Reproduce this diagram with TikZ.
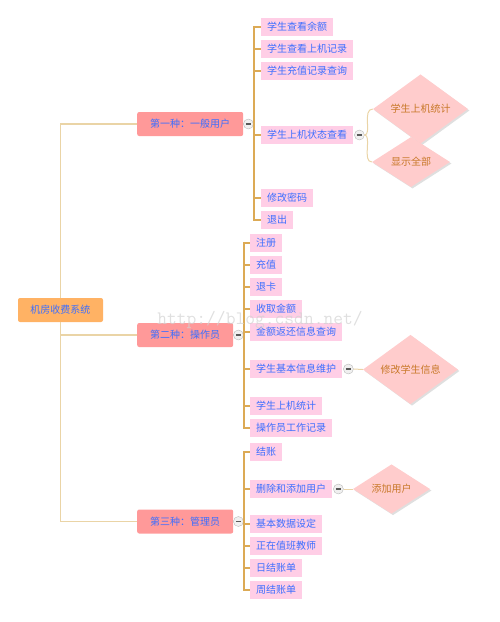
\documentclass[tikz,border=0pt]{standalone}
\usepackage{fontspec}
\setmainfont{Noto Sans CJK SC}
\usetikzlibrary{shapes.geometric,shadows}
\definecolor{rootorange}{RGB}{255,178,100}
\definecolor{kindred}{RGB}{255,153,153}
\definecolor{leafpink}{RGB}{255,206,230}
\definecolor{pickpink}{RGB}{255,204,204}
\definecolor{textblue}{RGB}{60,110,255}
\definecolor{pickbrown}{RGB}{200,120,40}
\definecolor{trunktan}{RGB}{234,212,166}
\definecolor{branchgold}{RGB}{220,170,85}
\tikzset{
  root/.style={rectangle, rounded corners=2pt, fill=rootorange, text=textblue,
    minimum height=24pt, inner xsep=12.5pt, font=\fontsize{10}{12}\selectfont},
  kind/.style={rectangle, rounded corners=2pt, fill=kindred, text=textblue,
    minimum height=24pt, inner xsep=13pt, anchor=west, font=\fontsize{10}{12}\selectfont},
  leaf/.style={rectangle, fill=leafpink, text=textblue, minimum height=18pt,
    inner xsep=6pt, anchor=west, font=\fontsize{10}{12}\selectfont},
  pick/.style={diamond, fill=pickpink, text=pickbrown, inner sep=0pt,
    drop shadow={shadow xshift=1.5pt, shadow yshift=-1.5pt, opacity=0.25},
    font=\fontsize{10}{12}\selectfont},
  fold/.style={circle, draw=gray!55, fill=gray!12, minimum size=10pt, inner sep=0pt,
    text=gray!70!black},
  trunk/.style={draw=trunktan, line width=1.3pt},
  branch/.style={draw=branchgold, line width=1.1pt}
}

\begin{document}
\begin{tikzpicture}[x=1pt, y=-1pt]

    \useasboundingbox (0,0) rectangle (500,622);

    \node[root] (sys) at (60.5,310) {机房收费系统};

    \node[kind] (k1) at (137,124) {第一种：一般用户};
    \node[kind] (k2) at (137,335) {第二种：操作员};
    \node[kind] (k3) at (137,521.5) {第三种：管理员};

    \draw[trunk] (sys.north) |- (k1.west);
    \draw[trunk] (sys.south) |- (k2.west);
    \draw[trunk] (sys.south) |- (k3.west);

    \node[fold] (f1) at ([xshift=5pt]k1.east) {\rule{5pt}{1.2pt}};
    \node[fold] (f2) at ([xshift=5pt]k2.east) {\rule{5pt}{1.2pt}};
    \node[fold] (f3) at ([xshift=5pt]k3.east) {\rule{5pt}{1.2pt}};

    \coordinate (b1) at (254,124);
    \coordinate (b2) at (244,335);
    \coordinate (b3) at (244,521.5);

    \node[leaf] (a1) at (261,27) {学生查看余额};
    \node[leaf] (a2) at (261,49) {学生查看上机记录};
    \node[leaf] (a3) at (261,71) {学生充值记录查询};
    \node[leaf] (a4) at (261,135) {学生上机状态查看};
    \node[leaf] (a5) at (261,198) {修改密码};
    \node[leaf] (a6) at (261,220) {退出};

    \node[leaf] (o1) at (250,243) {注册};
    \node[leaf] (o2) at (250,265) {充值};
    \node[leaf] (o3) at (250,287) {退卡};
    \node[leaf] (o4) at (250,309) {收取金额};
    \node[leaf] (o5) at (250,332) {金额返还信息查询};
    \node[leaf] (o6) at (250,369) {学生基本信息维护};
    \node[leaf] (o7) at (250,406) {学生上机统计};
    \node[leaf] (o8) at (250,428) {操作员工作记录};

    \node[leaf] (m1) at (250,452) {结账};
    \node[leaf] (m2) at (250,489) {删除和添加用户};
    \node[leaf] (m3) at (250,524) {基本数据设定};
    \node[leaf] (m4) at (250,546) {正在值班教师};
    \node[leaf] (m5) at (250,568) {日结账单};
    \node[leaf] (m6) at (250,590) {周结账单};

    \draw[branch] (f1) -- (b1);
    \draw[branch] (b1) |- (a1.west);
    \draw[branch] (b1) |- (a2.west);
    \draw[branch] (b1) |- (a3.west);
    \draw[branch] (b1) |- (a4.west);
    \draw[branch] (b1) |- (a5.west);
    \draw[branch] (b1) |- (a6.west);

    \draw[branch] (f2) -- (b2);
    \draw[branch] (b2) |- (o1.west);
    \draw[branch] (b2) |- (o2.west);
    \draw[branch] (b2) |- (o3.west);
    \draw[branch] (b2) |- (o4.west);
    \draw[branch] (b2) |- (o5.west);
    \draw[branch] (b2) |- (o6.west);
    \draw[branch] (b2) |- (o7.west);
    \draw[branch] (b2) |- (o8.west);

    \draw[branch] (f3) -- (b3);
    \draw[branch] (b3) |- (m1.west);
    \draw[branch] (b3) |- (m2.west);
    \draw[branch] (b3) |- (m3.west);
    \draw[branch] (b3) |- (m4.west);
    \draw[branch] (b3) |- (m5.west);
    \draw[branch] (b3) |- (m6.west);

    \node[fold] (fa) at ([xshift=6pt]a4.east) {\rule{5pt}{1.2pt}};
    \node[fold] (fo) at ([xshift=6pt]o6.east) {\rule{5pt}{1.2pt}};
    \node[fold] (fm) at ([xshift=6pt]m2.east) {\rule{5pt}{1.2pt}};

    \node[pick, minimum width=95pt, minimum height=48pt] (p1) at (420.5,109) {学生上机统计};
    \node[pick, minimum width=78pt, minimum height=50pt] (p2) at (411,162) {显示全部};
    \node[pick, minimum width=95pt, minimum height=47pt] (p3) at (410.5,369.5) {修改学生信息};
    \node[pick, minimum width=77pt, minimum height=47pt] (p4) at (391.5,489) {添加用户};

    \draw[trunktan, line width=1pt] (fa.east) .. controls (372,135) and (362,109) .. (p1.west);
    \draw[trunktan, line width=1pt] (fa.east) .. controls (372,135) and (362,162) .. (p2.west);
    \draw[trunktan, line width=1pt] (fo.east) -- (p3.west);
    \draw[trunktan, line width=1pt] (fm.east) -- (p4.west);

    \node[text=gray!35, opacity=0.7, font=\ttfamily\fontsize{19}{20}\selectfont] (mark) at (260,320) {http://blog.csdn.net/};
  \end{tikzpicture}
\end{document}
